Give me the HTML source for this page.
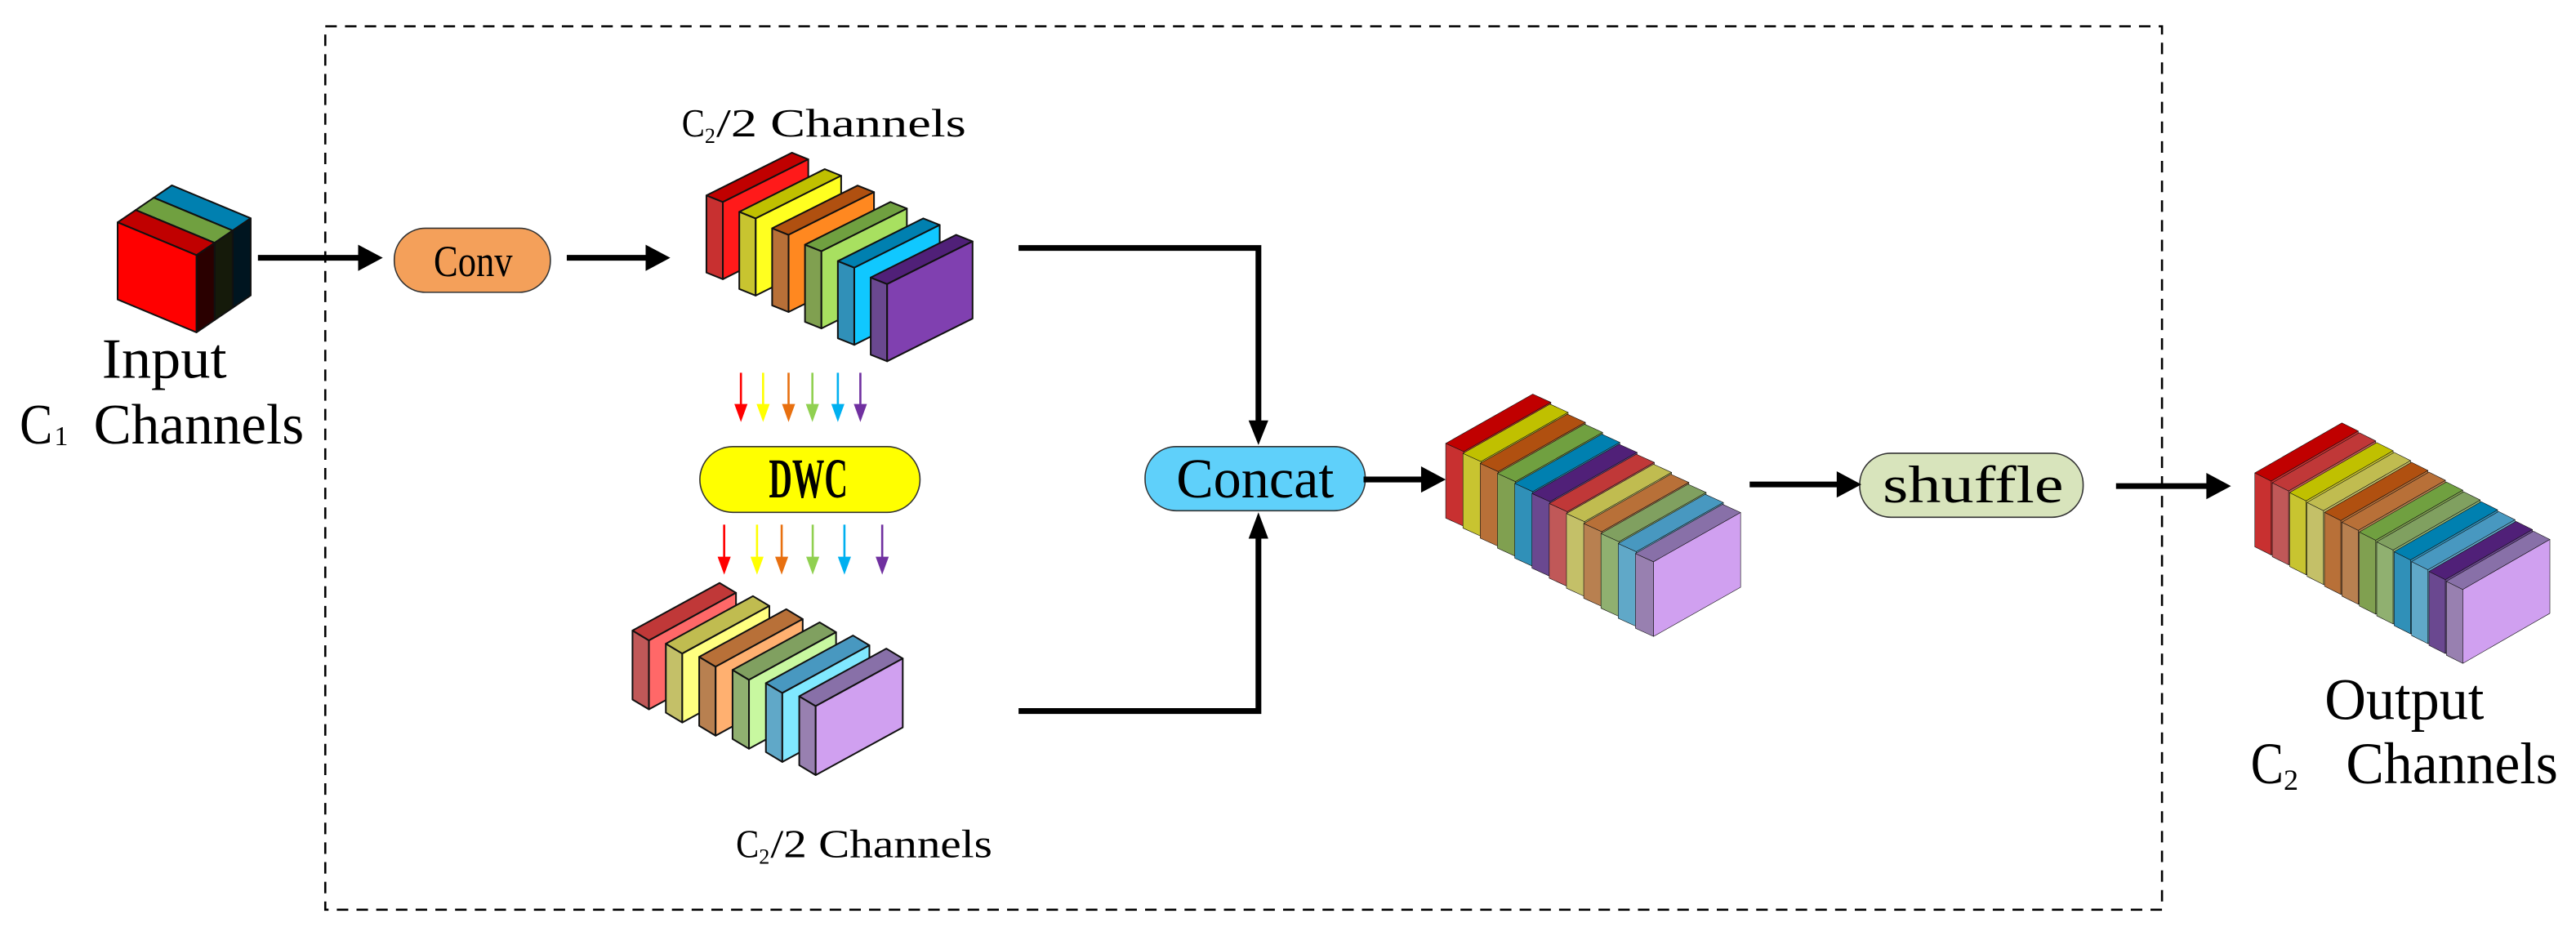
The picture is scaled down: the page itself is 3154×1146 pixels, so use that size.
<!DOCTYPE html>
<html><head><meta charset="utf-8"><style>
html,body{margin:0;padding:0;background:#fff;}
svg{display:block;}
text{font-family:"Liberation Serif",serif;fill:#000;}
</style></head><body>
<svg id="s" width="3154" height="1146" viewBox="0 0 1568 570" preserveAspectRatio="none" xmlns="http://www.w3.org/2000/svg">
<rect x="198" y="16" width="1118" height="538" fill="none" stroke="#000" stroke-width="1.3" stroke-dasharray="7,5"/>
<g id="shapes"></g>
<rect x="240" y="139" width="95" height="39" rx="19" fill="#f4a05a" stroke="#333" stroke-width="0.8"/>
<rect x="426" y="272" width="134" height="40" rx="20" fill="#ffff00" stroke="#333" stroke-width="0.8"/>
<rect x="697" y="272" width="134" height="39" rx="19" fill="#5fd0fa" stroke="#333" stroke-width="0.8"/>
<rect x="1132" y="276" width="136" height="39" rx="19" fill="#d8e4bc" stroke="#333" stroke-width="0.8"/>
<g stroke="#000" stroke-width="3.5" fill="none">
<line x1="157" y1="157" x2="220" y2="157"/>
<line x1="345" y1="157" x2="395" y2="157"/>
<polyline points="620,151 766,151 766,262"/>
<polyline points="620,433 766,433 766,322"/>
<line x1="830" y1="292" x2="867" y2="292"/>
<line x1="1065" y1="295" x2="1120" y2="295"/>
<line x1="1288" y1="296" x2="1345" y2="296"/>
</g>
<g fill="#000">
<polygon points="218,149 233,157 218,165"/>
<polygon points="393,149 408,157 393,165"/>
<polygon points="760,256 766,271 772,256"/>
<polygon points="760,328 766,312 772,328"/>
<polygon points="865,284 880,292 865,300"/>
<polygon points="1118,287 1133,295 1118,303"/>
<polygon points="1343,288 1358,296 1343,304"/>
</g>
<g id="carrows"></g>
<text x="62" y="230" font-size="35" textLength="76" lengthAdjust="spacingAndGlyphs">Input</text>
<text x="12" y="270" font-size="35" textLength="20" lengthAdjust="spacingAndGlyphs">C</text>
<text x="33" y="271" font-size="17">1</text>
<text x="57" y="270" font-size="35" textLength="128" lengthAdjust="spacingAndGlyphs">Channels</text>
<text x="415" y="83" font-size="24" textLength="14" lengthAdjust="spacingAndGlyphs">C</text>
<text x="429" y="87" font-size="13">2</text>
<text x="436" y="83" font-size="24" textLength="152" lengthAdjust="spacingAndGlyphs">/2 Channels</text>
<text x="448" y="522" font-size="24" textLength="14" lengthAdjust="spacingAndGlyphs">C</text>
<text x="462" y="526" font-size="13">2</text>
<text x="469" y="522" font-size="24" textLength="135" lengthAdjust="spacingAndGlyphs">/2 Channels</text>
<text x="264" y="168" font-size="27" textLength="48" lengthAdjust="spacingAndGlyphs">Conv</text>
<text x="468" y="303" font-size="34" font-weight="bold" textLength="48" lengthAdjust="spacingAndGlyphs">DWC</text>
<text x="716" y="303" font-size="34" textLength="96" lengthAdjust="spacingAndGlyphs">Concat</text>
<text x="1146" y="306" font-size="32" textLength="110" lengthAdjust="spacingAndGlyphs">shuffle</text>
<text x="1415" y="438" font-size="36" textLength="97" lengthAdjust="spacingAndGlyphs">Output</text>
<text x="1370" y="477" font-size="36" textLength="20" lengthAdjust="spacingAndGlyphs">C</text>
<text x="1390" y="481" font-size="18">2</text>
<text x="1428" y="477" font-size="36" textLength="129" lengthAdjust="spacingAndGlyphs">Channels</text>
</svg>
<script>
var NS="http://www.w3.org/2000/svg";
var g=document.getElementById("shapes");
function poly(pts,fill,sw){var p=document.createElementNS(NS,"polygon");p.setAttribute("points",pts.map(function(a){return a[0].toFixed(1)+","+a[1].toFixed(1)}).join(" "));p.setAttribute("fill",fill);p.setAttribute("stroke","#111");p.setAttribute("stroke-width",sw);p.setAttribute("stroke-linejoin","round");g.appendChild(p);}
function add(a,b){return [a[0]+b[0],a[1]+b[1]];}
function sub(a,b){return [a[0]-b[0],a[1]-b[1]];}
function stack(P0,S,W,H,T,cols,sw){
 for(var i=0;i<cols.length;i++){
  var P=[P0[0]+i*S[0],P0[1]+i*S[1]];var c=cols[i];
  var PH=[P[0],P[1]+H],PW=add(P,W),PWH=[PW[0],PW[1]+H];
  poly([P,PH,sub(PH,T),sub(P,T)],c[0],sw);
  poly([P,PW,sub(PW,T),sub(P,T)],c[1],sw);
  poly([P,PW,PWH,PH],c[2],sw);
 }
}
var dark=[["#c83030","#c00000","#ff1a1a"],["#c8c430","#c0c000","#ffff20"],["#b87038","#b05010","#ff8820"],["#80a050","#70a040","#a8e060"],["#3090b8","#0080b0","#10c8ff"],["#6a4890","#502078","#8040b0"]];
var light=[["#c05858","#c03838","#ff6868"],["#c4c068","#c0bc50","#ffff80"],["#b88050","#b87038","#ffb070"],["#90b070","#80a060","#c8f8a0"],["#60a8c8","#4898c0","#80e8ff"],["#9880b0","#8870a8","#d0a0f0"]];
stack([440,123],[20,10],[52,-26],47,[10,4],dark,1);
stack([395,390],[20.3,8],[53,-29],42,[10,6],light,1);
var cc=dark.concat(light).map(function(c,i){return i==11?c:[c[0],c[1],c[0]];});
stack([891,275],[10.5,6.1],[53,-30],45.5,[11,5],cc,0.3);
var oc=[];for(var k=0;k<6;k++){oc.push(dark[k]);oc.push(light[k]);}
oc=oc.map(function(c,i){return i==11?c:[c[0],c[1],c[0]];});
stack([1382.5,293],[10.6,6],[53,-30.5],45,[10,5],oc,0.3);
(function(){
 var P0=[71.6,135.4],W=[48,20],H=47,T=[11,-7.5];
 var cols=[["#0080b0","#001520","#0080b0"],["#70a040","#151a0a","#70a040"],["#c00000","#2a0000","#ff0000"]];
 for(var k=2;k>=0;k--){
  var P=[P0[0]+k*T[0],P0[1]+k*T[1]],c=cols[2-k];
  var PW=add(P,W),PWH=[PW[0],PW[1]+H],PH=[P[0],P[1]+H];
  poly([P,PW,add(PW,T),add(P,T)],c[0],1);
  poly([PW,PWH,add(PWH,T),add(PW,T)],c[1],1);
  poly([P,PW,PWH,PH],c[2],1);
 }
})();
var ca=document.getElementById("carrows");
var colsA=["#ff0000","#ffff00","#e87010","#90d050","#00b0f0","#7030a0"];
function carr(xs,y1,y2){xs.forEach(function(x,i){
 var l=document.createElementNS(NS,"line");l.setAttribute("x1",x);l.setAttribute("x2",x);l.setAttribute("y1",y1);l.setAttribute("y2",y2-8);l.setAttribute("stroke",colsA[i]);l.setAttribute("stroke-width","1.3");ca.appendChild(l);
 var p=document.createElementNS(NS,"polygon");p.setAttribute("points",(x-4)+","+(y2-11)+" "+(x+4)+","+(y2-11)+" "+x+","+y2);p.setAttribute("fill",colsA[i]);ca.appendChild(p);});}
carr([451,464.5,480,494.5,510,523.7],227,257);
carr([440.8,460.8,475.8,494.7,514,537],319.5,350);
</script>
</body></html>
